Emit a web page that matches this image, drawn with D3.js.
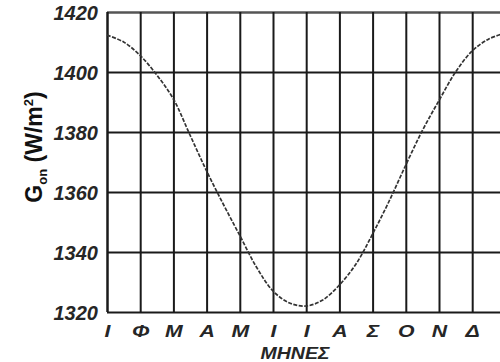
<!DOCTYPE html>
<html>
<head>
<meta charset="utf-8">
<script src="https://cdn.jsdelivr.net/npm/d3@7"></script>
<style>
  body { margin: 0; background: #fff; }
  svg { display: block; }
  .axis text { font-family: "Liberation Sans", Arial, sans-serif; font-weight: bold; font-style: italic; fill: #262626; }
  .axis .domain { display: none; }
  .axis line { stroke: #1a1a1a; stroke-width: 2; }
</style>
</head>
<body>
<div class="chart"></div>
<script>
const width = 500
const height = 362

// months of the year (greek initials), one at each gridline
const months = ['Ι', 'Φ', 'Μ', 'Α', 'Μ', 'Ι', 'Ι', 'Α', 'Σ', 'Ο', 'Ν', 'Δ', 'Ι']
const yTicks = [1320, 1340, 1360, 1380, 1400, 1420]

// G_on, position in months from 1 January
const monthPos = [0, 0.5, 1, 1.5, 2, 2.5, 3, 3.5, 4, 4.5, 5, 5.5, 6, 6.5, 7, 7.5, 8, 8.5, 9, 9.5, 10, 10.5, 11, 11.5, 12]
const gon = [1412.3, 1410, 1405.5, 1399, 1391, 1379, 1367, 1356, 1345.5, 1335, 1327, 1323, 1322, 1324, 1329, 1336, 1346, 1357, 1369, 1380.5, 1390.5, 1400, 1407, 1411, 1413]

const plotLeft = 107, plotTop = 12, plotBottom = 312
const step = 33.2

const svg = d3.select('.chart')
    .append('svg')
    .attr('width', width)
    .attr('height', height)
    .attr('viewBox', `0 0 ${width} ${height}`)

const x = d3.scaleLinear().domain([0, 12]).range([plotLeft, plotLeft + 12 * step])
const y = d3.scaleLinear().domain([1320, 1420]).range([plotBottom, plotTop])

// horizontal grid + value labels
svg.append('g')
    .attr('class', 'axis y')
    .attr('transform', `translate(${plotLeft},0)`)
    .call(d3.axisLeft(y).tickValues(yTicks).tickFormat(d3.format('d')).tickSize(-(width - plotLeft + 10)).tickPadding(9))
    .selectAll('text')
    .style('font-size', '20px')
    .attr('dy', '0.36em')

svg.select('.axis.y').selectAll('.tick').filter(d => d === 1420).select('line')
    .style('stroke', '#555').style('stroke-width', 2.5)

// vertical grid + month labels
const xa = svg.append('g')
    .attr('class', 'axis x')
    .attr('transform', `translate(0,${plotBottom})`)
    .call(d3.axisBottom(x).tickValues(d3.range(months.length)).tickFormat(i => months[i]).tickSize(-(plotBottom - plotTop)).tickPadding(0))

xa.selectAll('text')
    .style('font-size', '17px')
    .attr('y', 0)
    .attr('dy', 0)
    .attr('transform', 'translate(0,25) scale(1.25,1)')

svg.select('.axis.x').selectAll('.tick').filter(d => d === 0).select('line')
    .style('stroke-width', 2.5)

// the curve
const line = d3.line()
    .x((d, i) => x(monthPos[i]))
    .y(d => y(d))
    .curve(d3.curveCatmullRom)

svg.append('path')
    .datum(gon)
    .attr('d', line)
    .attr('fill', 'none')
    .attr('stroke', '#333')
    .attr('stroke-width', 1.7)
    .attr('stroke-dasharray', '4,1.5')

// axis titles
const yt = svg.append('text')
    .attr('transform', 'translate(42,147) rotate(-90)')
    .attr('text-anchor', 'middle')
    .style('font-family', '"Liberation Sans", Arial, sans-serif')
    .style('font-weight', 'bold')
    .style('font-size', '23px')
    .style('fill', '#111')
yt.append('tspan').text('G')
yt.append('tspan').text('on').style('font-size', '13px').attr('dy', 5)
yt.append('tspan').text(' (W/m').attr('dy', -5)
yt.append('tspan').text('2').style('font-size', '13px').attr('dy', -9)
yt.append('tspan').text(')').attr('dy', 9)

svg.append('text')
    .attr('transform', 'translate(295,359) scale(1.22,1)')
    .attr('text-anchor', 'middle')
    .style('font-family', '"Liberation Sans", Arial, sans-serif')
    .style('font-weight', 'bold')
    .style('font-style', 'italic')
    .style('font-size', '16px')
    .style('fill', '#262626')
    .text('ΜΗΝΕΣ')
</script>
</body>
</html>
